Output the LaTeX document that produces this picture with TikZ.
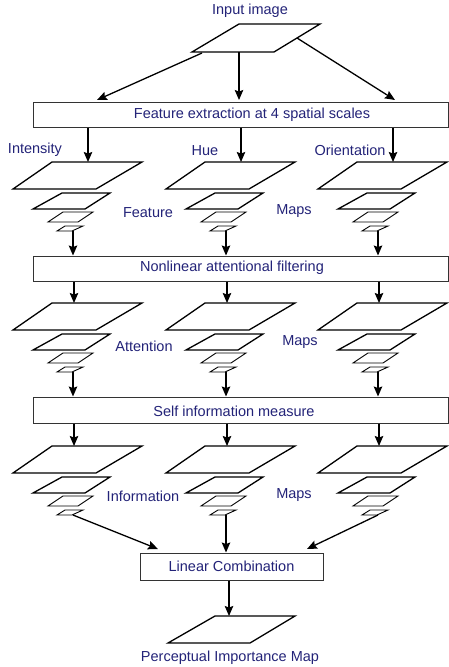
\documentclass[tikz,border=0pt]{standalone}
\usepackage{fontspec}
\setmainfont{Liberation Sans}
\usetikzlibrary{arrows.meta,calc,positioning}
\definecolor{labelblue}{RGB}{35,35,120}
\tikzset{
  arr/.style={-{Stealth[length=10pt,width=8.5pt,inset=1.5pt]}, line width=1.3pt},
  lbl/.style={text=labelblue, font=\fontsize{14.5}{16}\selectfont, inner sep=0pt},
  procbox/.style={draw=black!80, line width=1pt, fill=white, inner sep=0pt},
  plate/.style={draw, line width=1.3pt},
  thinplate/.style={draw, line width=0.9pt},
}

\begin{document}
\begin{tikzpicture}[x=1pt,y=-1pt]
    \useasboundingbox (0,0) rectangle (449,667);

    % Input image
    \node[lbl] (inlbl) at (250,11) {Input image};
    \draw[plate] (192,52) -- (274,52) -- (320,24) -- (239,24) -- cycle;
    \coordinate (inSW) at (202,53);
    \coordinate (inS) at (239,52);
    \coordinate (inE) at (297,38);

    % Processing boxes
    \node[procbox, minimum width=415pt, minimum height=25pt] (feat) at (240.5,114.5) {};
    \node[lbl] (featlbl) at (252,115) {Feature extraction at 4 spatial scales};
    \node[procbox, minimum width=415pt, minimum height=25pt] (nlaf) at (240.5,268.5) {};
    \node[lbl] (nlaflbl) at (232,268) {Nonlinear attentional filtering};
    \node[procbox, minimum width=415pt, minimum height=26pt] (selfinf) at (240.5,410) {};
    \node[lbl] (selfinflbl) at (234,411) {Self information measure};
    \node[procbox, lbl, draw=black!80, minimum width=183pt, minimum height=27pt] (lc) at (231.5,566.5) {Linear Combination};

    % Input image to the feature box
    \coordinate (feat1) at (97,100);
    \coordinate (feat2) at (239,100);
    \coordinate (feat3) at (395,100);
    \draw[arr] (inSW) -- (feat1);
    \draw[arr] (inS) -- (feat2);
    \draw[arr] (inE) -- (feat3);

    % Map pyramids: 3 stages x 3 channels
    \foreach \s/\sy/\tx in {1/0/88, 2/141/74, 3/284/74}{
      \foreach \c/\cx in {1/0, 2/153, 3/305}{
        \begin{scope}[shift={(\cx,\sy)}]
          \draw[plate] (13,189) -- (96,189) -- (142,162) -- (52,162) -- cycle;
          \draw[plate] (33,209) -- (85,209) -- (110,193) -- (62,193) -- cycle;
          \draw[thinplate] (48,222) -- (78,222) -- (93,212) -- (63,212) -- cycle;
          \draw[thinplate] (57,231) -- (72,231) -- (83,226) -- (65,226) -- cycle;
          \coordinate (top-\s-\c) at (\tx,162);
          \coordinate (bot-\s-\c) at (73,231);
        \end{scope}
      }
    }

    % Channel names
    \node[lbl] (intlbl) at (35,150) {Intensity};
    \node[lbl] (huelbl) at (205,151) {Hue};
    \node[lbl] (orilbl) at (350,150) {Orientation};

    % Stage names
    \node[lbl] (featmap) at (148,213) {Feature};
    \node[lbl] (featmaps) at (294,211) {Maps};
    \node[lbl] (attmap) at (144,346) {Attention};
    \node[lbl] (attmaps) at (300,342) {Maps};
    \node[lbl] (infmap) at (143,496) {Information};
    \node[lbl] (infmaps) at (294,495) {Maps};

    % Arrows between boxes and pyramids
    \foreach \c in {1,2,3}{
      \draw[arr] (top-1-\c |- feat.south) -- (top-1-\c);
      \draw[arr] (bot-1-\c) -- (bot-1-\c |- nlaf.north);
      \draw[arr] (top-2-\c |- nlaf.south) -- (top-2-\c);
      \draw[arr] (bot-2-\c) -- (bot-2-\c |- selfinf.north);
      \draw[arr] (top-3-\c |- selfinf.south) -- (top-3-\c);
    }

    % Information maps to the linear combination
    \coordinate (lcin1) at (158,549);
    \coordinate (lcin3) at (307,549);
    \draw[arr] (bot-3-1) -- (lcin1);
    \draw[arr] (bot-3-2) -- (bot-3-2 |- lc.north);
    \draw[arr] (bot-3-3) -- (lcin3);

    % Output map
    \coordinate (outtop) at (229,616);
    \draw[arr] (lc.south -| outtop) -- (outtop);
    \draw[plate] (168,643) -- (250,643) -- (295,616) -- (215,616) -- cycle;
    \node[lbl] (outlbl) at (230,658) {Perceptual Importance Map};
\end{tikzpicture}
\end{document}
